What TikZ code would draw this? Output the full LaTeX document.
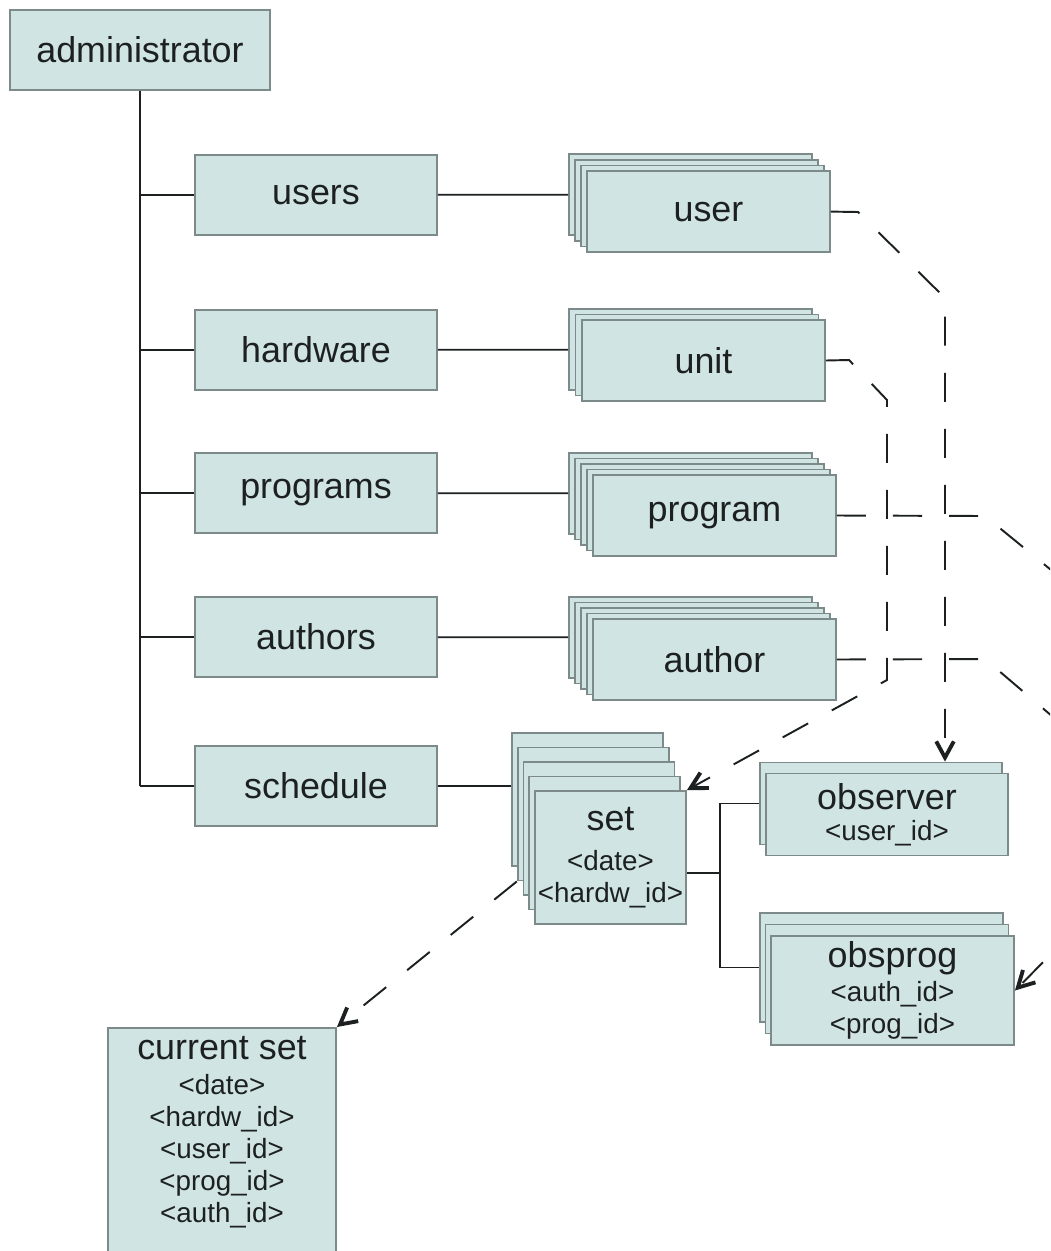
\documentclass[tikz,border=0pt]{standalone}
\usepackage{fontspec}
\setmainfont{Liberation Sans}
\usetikzlibrary{arrows.meta,positioning}
\definecolor{pale}{RGB}{208,229,227}
\definecolor{edge}{RGB}{125,138,138}
\definecolor{ink}{RGB}{28,32,32}
\newcommand{\namefont}{\fontsize{10.2}{12}\selectfont}
\newcommand{\keyfont}{\fontsize{7.9}{9.1}\selectfont}
\tikzset{
  box/.style={draw=edge, fill=pale, line width=0.5pt, text=ink, font=\namefont,
              align=center, inner sep=0pt, minimum width=2.42cm, minimum height=0.8cm},
  card/.style={box, minimum width=2.43cm, minimum height=0.81cm},
  keys/.style={font=\keyfont},
  link/.style={draw=ink, line width=0.5pt},
  dep/.style={draw=ink, line width=0.55pt, dash pattern=on 0.29cm off 0.27cm},
  dephead/.style={-{Straight Barb[length=4.6pt,width=5pt,line width=1.1pt]}}
}

\begin{document}
\begin{tikzpicture}[x=0.01cm, y=-0.01cm]
    \useasboundingbox (0,0) rectangle (1050,1251);
    \clip (0,0) rectangle (1050,1251);

    % tree of the administrator
    \node[box, minimum width=2.6cm] (admin) at (140,50) {administrator};
    \node[box] (users)    at (316,195) {users};
    \node[box] (hardware) at (316,350) {hardware};
    \node[box] (programs) at (316,493) {programs};
    \node[box] (authors)  at (316,637) {authors};
    \node[box] (schedule) at (316,786) {schedule};

    % stacked records, the front card carries the text
    \foreach \i in {0,...,2}
      \node[card] (user\i) at ({690.5+6*\i},{194.5+5.7*\i}) {};
    \node[card] (user3) at ([shift={(6,5.7)}]user2) {user};
    \foreach \i in {0,1}
      \node[card] (unit\i) at ({690.5+6.5*\i},{349.5+5.5*\i}) {};
    \node[card] (unit2) at ([shift={(6.5,5.5)}]unit1) {unit};
    \foreach \i in {0,...,3}
      \node[card] (prog\i) at ({690.5+6*\i},{493.5+5.5*\i}) {};
    \node[card] (prog4) at ([shift={(6,5.5)}]prog3) {program};
    \foreach \i in {0,...,3}
      \node[card] (auth\i) at ({690.5+6*\i},{637.5+5.5*\i}) {};
    \node[card] (auth4) at ([shift={(6,5.5)}]auth3) {author};
    \foreach \i in {0,...,3}
      \node[card, minimum width=1.51cm, minimum height=1.33cm] (set\i)
        at ({587.5+5.75*\i},{799.5+14.5*\i}) {};
    \node[card, keys, minimum width=1.51cm, minimum height=1.33cm] (set4)
      at ([shift={(5.75,14.5)}]set3) {{\namefont set}\\[2.2pt]<date>\\<hardw\_id>};
    \node[card, minimum width=2.42cm, minimum height=0.82cm] (obs0) at (881,803.5) {};
    \node[card, keys, minimum width=2.42cm, minimum height=0.82cm] (obs1)
      at ([shift={(6,11)}]obs0) {{\namefont observer}\\[-0.4pt]<user\_id>};
    \foreach \i in {0,1}
      \node[card, minimum height=1.09cm] (obsp\i) at ({881.5+5.5*\i},{967.5+11.5*\i}) {};
    \node[card, keys, minimum height=1.09cm] (obsp2)
      at ([shift={(5.5,11.5)}]obsp1) {{\namefont obsprog}\\[0.6pt]<auth\_id>\\<prog\_id>};

    \node[box, anchor=north, minimum width=2.28cm, minimum height=2.6cm] (cur) at (222,1027) {};
    \node[keys, anchor=north, align=center, inner sep=0pt, text=ink] (curtxt) at (222,1036)
      {{\namefont current set}\\[0.6pt]<date>\\<hardw\_id>\\<user\_id>\\<prog\_id>\\<auth\_id>};

    % solid links
    \draw[link] (admin.south) -- (admin.south |- schedule.west);
    \foreach \n in {users,hardware,programs,authors,schedule}
      \draw[link] (\n.west) -- (\n.west -| admin.south);
    \draw[link] (users) -- (user0);
    \draw[link] (hardware) -- (unit0);
    \draw[link] (programs) -- (prog0);
    \draw[link] (authors) -- (auth0);
    \draw[link] (schedule.east) -- (schedule.east -| set0.west);
    \coordinate (fork) at (720,873);
    \draw[link] (fork -| set4.east) -- (fork);
    \draw[link] (obs0.west) -| (fork) |- (obsp0.west);

    % dashed references
    \coordinate (ubend) at (945,298);
    \draw[dep, dephead] (user3.east) -- (858,212) -- (ubend) -- (obs0.north -| ubend);
    \draw[dep, dephead] (unit2.east) -- (849,360) -- (887,400) -- (887,680) -- (set4.north east);
    \coordinate (join) at (1100,757);
    \draw[dep, dephead] (prog4.east) -- (985,516) -- (1100,610) -- (1100,905) -- (obsp2.east);
    \draw[dep] (auth4.east) -- (985,659) -- (join);
    \draw[dep, dephead] (set1.south west) -- (cur.north east);
\end{tikzpicture}
\end{document}
